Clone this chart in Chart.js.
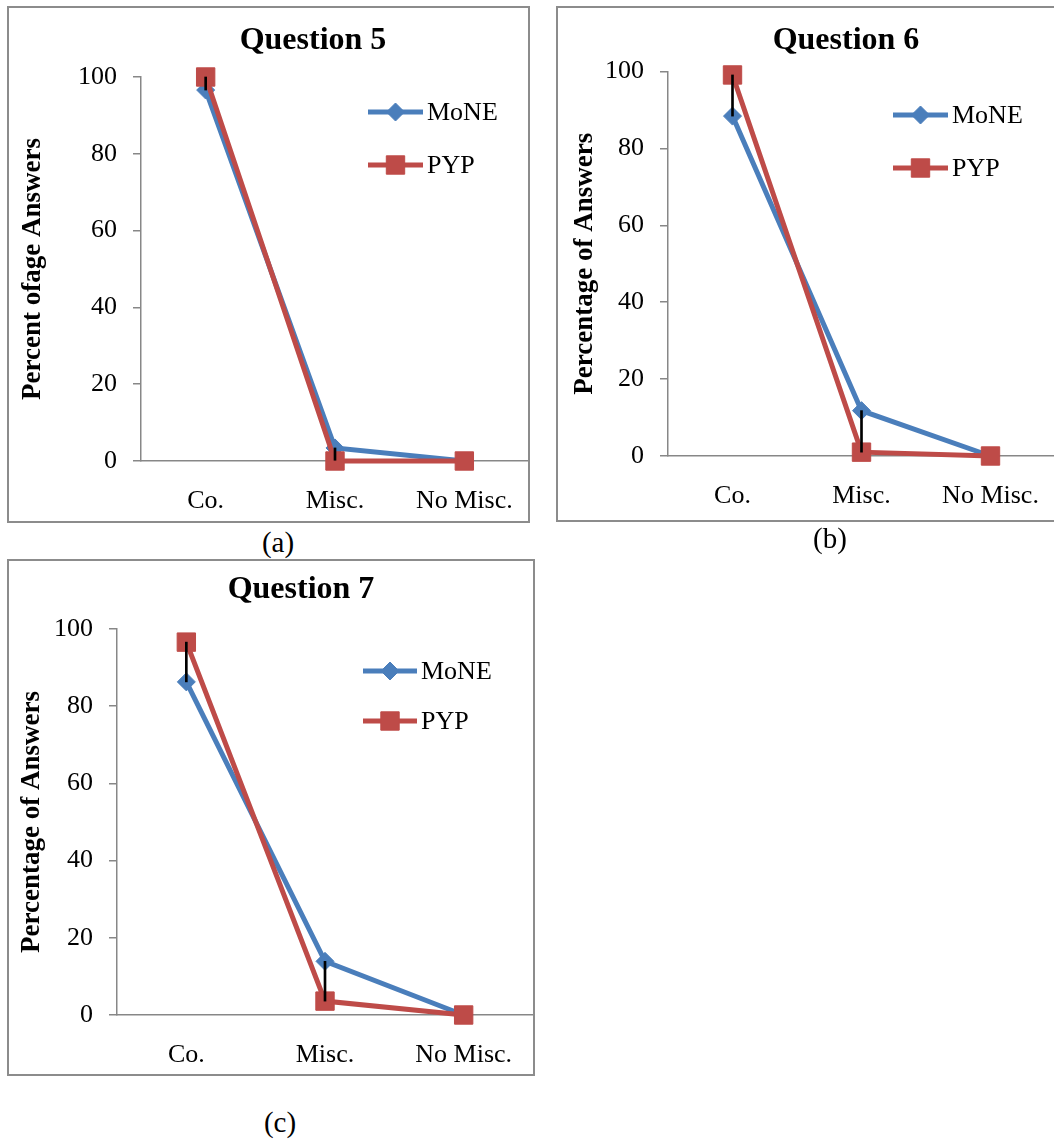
<!DOCTYPE html>
<html>
<head>
<meta charset="utf-8">
<script src="https://cdn.jsdelivr.net/npm/chart.js@4.4.1/dist/chart.umd.min.js"></script>
<style>
  html, body { margin: 0; padding: 0; background: #fff; overflow: hidden; }
  body { width: 1054px; height: 1140px; position: relative; font-family: 'Liberation Serif', 'Times New Roman', serif; }
  .panel { position: absolute; }
  .panel canvas { position: absolute; left: 0; top: 0; }
  .frame { position: absolute; left: 0; top: 0; right: 0; bottom: 0; border: 2px solid #8c8c8c; box-sizing: border-box; pointer-events: none; }
  .caption { position: absolute; font-size: 29px; color: #000; transform: translate(-50%, -50%); white-space: nowrap; }
</style>
</head>
<body>
<script>
// Categories and values
const categories = ["Co.", "Misc.", "No Misc."];
const seriesNames = ["MoNE", "PYP"];
const gapShown = [true, true, false];   // black connector between the two series

const q5Mone = [96.6, 3.4, 0];
const q5Pyp = [100, 0, 0];
const q6Mone = [88.4, 11.8, 0];
const q6Pyp = [99.1, 1.0, 0];
const q7Mone = [86.3, 13.9, 0];
const q7Pyp = [96.6, 3.6, 0];

const AXIS = '#878787';
const BLUE = '#4a7ebb';
const RED = '#be4b48';
const FONT = "'Liberation Serif', 'Times New Roman', serif";

Chart.defaults.font.family = FONT;
Chart.defaults.color = '#000';

// Layout of each panel, in page pixels
const panels = [
  {
    box: [7, 6, 523, 517], area: { left: 141, top: 77, right: 529, bottom: 461 },
    title: 'Question 5', titleAt: [313, 41], yTitle: 'Percent ofage Answers', yTitleX: 33,
    legendLine: [368, 423], legendY: [112, 165], legendTextX: 427,
    mone: q5Mone, pyp: q5Pyp, caption: '(a)', captionAt: [278, 542]
  },
  {
    box: [556, 6, 510, 516], area: { left: 668, top: 71.5, right: 1055, bottom: 456 },
    title: 'Question 6', titleAt: [846, 41], yTitle: 'Percentage of Answers', yTitleX: 585,
    legendLine: [893, 948], legendY: [115, 168], legendTextX: 952,
    mone: q6Mone, pyp: q6Pyp, caption: '(b)', captionAt: [830, 538]
  },
  {
    box: [7, 559, 528, 517], area: { left: 117, top: 629, right: 533, bottom: 1015 },
    title: 'Question 7', titleAt: [301, 590], yTitle: 'Percentage of Answers', yTitleX: 32,
    legendLine: [363, 417], legendY: [671, 721], legendTextX: 421,
    mone: q7Mone, pyp: q7Pyp, caption: '(c)', captionAt: [280, 1122]
  }
];

// Title and Excel-like legend (line through marker) drawn on top
const panelDecor = {
  id: 'panelDecor',
  afterDraw(chart, args, opts) {
    const ctx = chart.ctx;
    ctx.save();
    ctx.fillStyle = '#000';
    ctx.textAlign = 'center';
    ctx.textBaseline = 'middle';
    ctx.font = 'bold 32px ' + FONT;
    ctx.fillText(opts.title, opts.titleX, opts.titleY);

    [0, 1].forEach(i => {
      const ds = chart.data.datasets[i];
      const y = opts.legendY[i];
      ctx.strokeStyle = ds.borderColor;
      ctx.lineWidth = ds.borderWidth;
      ctx.beginPath();
      ctx.moveTo(opts.lineX[0], y);
      ctx.lineTo(opts.lineX[1], y);
      ctx.stroke();
      ctx.fillStyle = ds.backgroundColor;
      ctx.lineWidth = ds.pointBorderWidth;
      Chart.helpers.drawPoint(ctx, {
        pointStyle: ds.pointStyle, radius: ds.pointRadius, rotation: 0, borderWidth: ds.pointBorderWidth
      }, (opts.lineX[0] + opts.lineX[1]) / 2, y);
      ctx.fillStyle = '#000';
      ctx.textAlign = 'left';
      ctx.font = '26px ' + FONT;
      ctx.fillText(ds.label, opts.textX, y + 1);
    });
    ctx.restore();
  }
};

function buildPanel(p) {
  const [bx, by, bw, bh] = p.box;
  const wrap = document.createElement('div');
  wrap.className = 'panel';
  Object.assign(wrap.style, { left: bx + 'px', top: by + 'px', width: bw + 'px', height: bh + 'px' });
  const canvas = document.createElement('canvas');
  canvas.width = bw;
  canvas.height = bh;
  wrap.appendChild(canvas);
  const frame = document.createElement('div');
  frame.className = 'frame';
  wrap.appendChild(frame);
  document.body.appendChild(wrap);

  const cap = document.createElement('div');
  cap.className = 'caption';
  cap.textContent = p.caption;
  cap.style.left = p.captionAt[0] + 'px';
  cap.style.top = p.captionAt[1] + 'px';
  document.body.appendChild(cap);

  const titleOffset = 4 + 27 * 1.2 / 2;
  const padLeft = p.yTitleX - titleOffset - bx;
  const yWidth = p.area.left - bx - padLeft;
  const xHeight = 55;
  const padBottom = by + bh - p.area.bottom - xHeight;

  new Chart(canvas, {
    type: 'line',
    data: {
      labels: categories,
      datasets: [
        {
          label: seriesNames[0], data: p.mone,
          borderColor: BLUE, backgroundColor: BLUE, borderWidth: 5,
          pointStyle: 'rectRot', pointRadius: 9, pointBorderWidth: 1,
          pointBackgroundColor: BLUE, pointBorderColor: BLUE,
          order: 2, clip: false
        },
        {
          label: seriesNames[1], data: p.pyp,
          borderColor: RED, backgroundColor: RED, borderWidth: 5,
          pointStyle: 'rect', pointRadius: 13, pointBorderWidth: 1,
          pointBackgroundColor: RED, pointBorderColor: RED,
          order: 1, clip: false
        },
        {
          type: 'bar', label: 'gap',
          data: categories.map((c, i) => gapShown[i] ? [p.mone[i], p.pyp[i]] : null),
          backgroundColor: '#000', barThickness: 2, order: 0, clip: false
        }
      ]
    },
    options: {
      responsive: false,
      animation: false,
      events: [],
      layout: {
        autoPadding: false,
        padding: { left: padLeft, top: p.area.top - by, right: bx + bw - p.area.right, bottom: padBottom }
      },
      plugins: {
        legend: { display: false },
        tooltip: { enabled: false },
        panelDecor: {
          title: p.title, titleX: p.titleAt[0] - bx, titleY: p.titleAt[1] - by,
          lineX: [p.legendLine[0] - bx, p.legendLine[1] - bx],
          legendY: [p.legendY[0] - by, p.legendY[1] - by],
          textX: p.legendTextX - bx
        }
      },
      scales: {
        x: {
          offset: true,
          grid: { display: false, drawTicks: false },
          border: { color: AXIS, width: 1.5 },
          ticks: { padding: 25, font: { size: 26 }, color: '#000', maxRotation: 0, autoSkip: false },
          afterFit: s => { s.height = xHeight; s.paddingLeft = 0; s.paddingRight = 0; }
        },
        y: {
          min: 0, max: 100,
          grid: { drawOnChartArea: false, drawTicks: true, tickLength: 8, color: AXIS, lineWidth: 1.5 },
          border: { color: AXIS, width: 1.5 },
          ticks: { stepSize: 20, padding: 16, font: { size: 26 }, color: '#000' },
          title: { display: true, text: p.yTitle, font: { size: 27, weight: 'bold' }, color: '#000', padding: { top: 4, bottom: 4 } },
          afterFit: s => { s.width = yWidth; }
        }
      }
    },
    plugins: [panelDecor]
  });
}

panels.forEach(buildPanel);
</script>
</body>
</html>
